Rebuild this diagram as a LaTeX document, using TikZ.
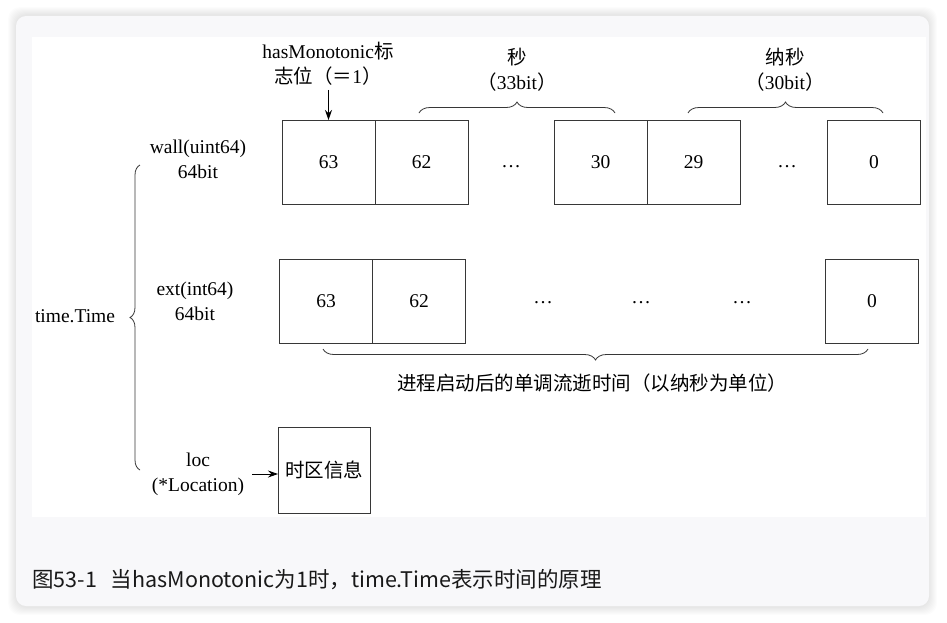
\documentclass[tikz,border=0pt]{standalone}
\usepackage{fontspec}
\setmainfont{Liberation Serif}
\newfontfamily\cjk{Noto Sans CJK SC}
\usetikzlibrary{arrows.meta, positioning, decorations.pathreplacing}
\definecolor{CardGray}{RGB}{248, 248, 250}
\definecolor{LineGray}{RGB}{55, 55, 55}
\newcommand{\txt}{\fontsize{19.5}{25}\selectfont}

\tikzset{
  bitbox/.style={draw=LineGray, line width=0.9pt, minimum width=93pt, minimum height=84pt,
                 inner sep=0pt, outer sep=0pt, font=\txt},
  lbl/.style={align=center, font=\txt, inner sep=0pt},
  ellip/.style={font=\txt, inner sep=0pt},
  brc/.style={decorate, decoration={brace, amplitude=11pt}, draw=LineGray, line width=0.8pt},
  arr/.style={-{Stealth[length=10pt, width=7pt]}, line width=0.9pt},
}

\begin{document}
\begin{tikzpicture}[x=1pt, y=-1pt]
\useasboundingbox (0,0) rectangle (947,622);
% page and card
\fill[white] (0,0) rectangle (947,622);
\foreach \s in {1,...,8}
  \fill[black, opacity=0.012, rounded corners=12pt] (16-\s,15-\s) rectangle (929+\s,607+\s);
\fill[CardGray, rounded corners=10pt] (16,16) rectangle (929,606);
\fill[white] (32,37) rectangle (926,517);

% wall row
\node[bitbox] (wall63) at (328.5,162) {63};
\node[bitbox, right=0pt of wall63] (wall62) {62};
\node[ellip] (wdots1) at (511,167) {\ldots};
\node[bitbox] (wall30) at (600.5,162) {30};
\node[bitbox, right=0pt of wall30] (wall29) {29};
\node[ellip] (wdots2) at (787,167) {\ldots};
\node[bitbox] (wall0) at (874,162.5) {0};

% ext row
\node[bitbox] (ext63) at (326,301) {63};
\node[bitbox, right=0pt of ext63] (ext62) {62};
\node[ellip] (edots1) at (543,303) {\ldots};
\node[ellip] (edots2) at (641,303) {\ldots};
\node[ellip] (edots3) at (742,303) {\ldots};
\node[bitbox] (ext0) at (872,301.5) {0};

% labels on the left
\node[lbl] (timeT) at (75,316) {time.Time};
\node[lbl] (wallL) at (198,159) {wall(uint64)\\64bit};
\node[lbl] (extL) at (195,301) {ext(int64)\\64bit};
\node[lbl] (locL) at (198,474) {loc\\(*Location)};
\node[bitbox, minimum width=92pt, minimum height=86pt] (tz) at (324,470) {\cjk 时区信息};
\draw[arr] (locL.east) ++(8,0) -- (locL.east -| tz.west);

% flag
\node[lbl] (flag) at (328,64) {hasMonotonic{\cjk 标}\\{\cjk 志位（＝}1{\cjk ）}};
\draw[arr, shorten <=4pt] (flag.south -| wall63.north) -- (wall63.north);

% braces
\coordinate (secA) at (419,113);
\coordinate (secB) at (615,113);
\coordinate (nsA) at (688,113);
\coordinate (nsB) at (883,113);
\coordinate (monoA) at (868,349);
\coordinate (monoB) at (323,349);
\coordinate (tA) at (140,470);
\coordinate (tB) at (140,165);
\draw[brc] (secA) -- (secB);
\draw[brc] (nsA) -- (nsB);
\draw[brc] (monoA) -- (monoB);
\draw[brc, decoration={amplitude=10pt}] (tA) -- (tB);
\node[lbl] (secL) at (517,70) {{\cjk 秒}\\{\cjk （}33bit{\cjk ）}};
\node[lbl] (nsL) at (785,70) {{\cjk 纳秒}\\{\cjk （}30bit{\cjk ）}};
\node[lbl] (monoL) at (592,383) {\cjk 进程启动后的单调流逝时间（以纳秒为单位）};

% caption
\node[anchor=west, inner sep=0pt, text=black!90, font=\cjk\fontsize{21.5}{24}\selectfont] (cap)
  at (32,580) {图53-1\hspace{14pt}当hasMonotonic为1时，time.Time表示时间的原理};
\end{tikzpicture}
\end{document}
